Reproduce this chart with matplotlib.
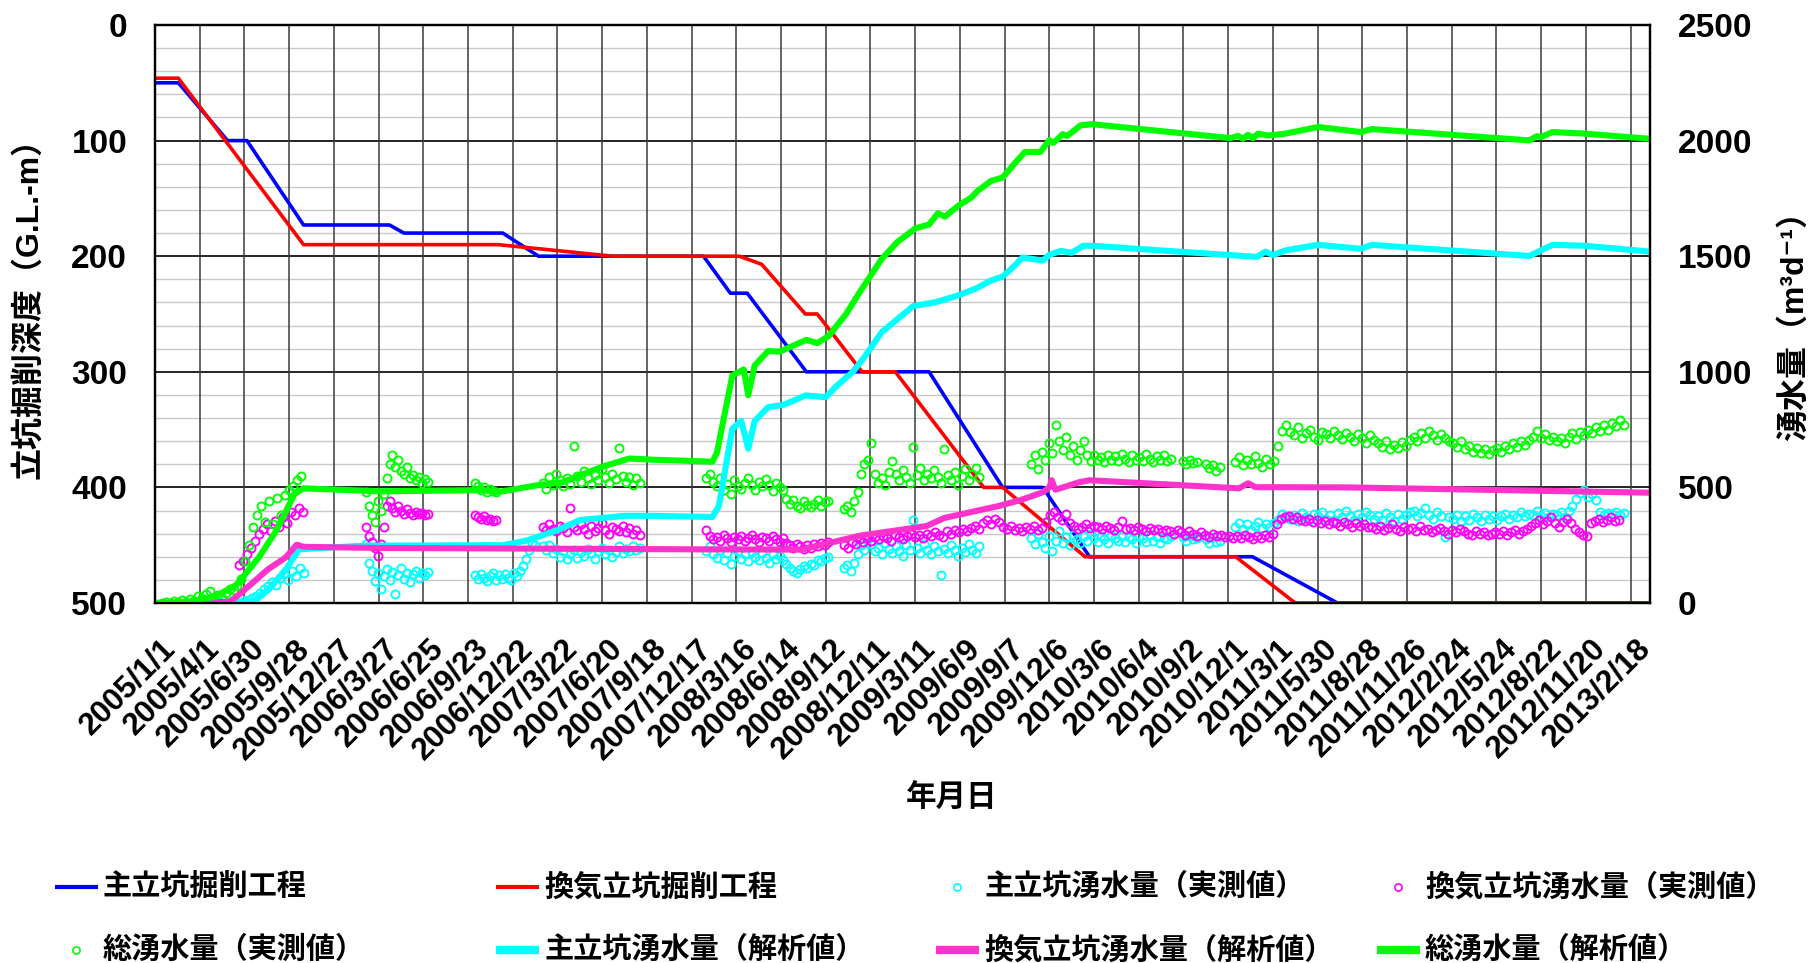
import matplotlib
matplotlib.use("Agg")
import matplotlib.pyplot as plt
import matplotlib.transforms as mtransforms
from matplotlib.lines import Line2D
import numpy as np
import pandas as pd

plt.rcParams["font.family"] = ["Liberation Sans", "Noto Sans CJK JP", "DejaVu Sans"]
plt.rcParams["font.weight"] = "bold"

T0 = np.datetime64("2005-01-01")
X_END = 3009                      # days after 2005/1/1 shown on the axis

# shaft excavation depth (G.L.-m), days after 2005/1/1
main_day = [0, 47, 146, 185, 299, 472, 501, 700, 772, 1104, 1158, 1192, 1311, 1558,
            1706, 1787, 1881, 2209, 2380, 3009]
main_depth = [50, 50, 100, 100, 173, 173, 180, 180, 200, 200, 232, 232, 300, 300,
              400, 400, 460, 460, 500, 500]
vent_day = [0, 47, 299, 691, 921, 1176, 1221, 1309, 1333, 1423, 1490, 1668, 1706,
            1872, 2175, 2295, 3009]
vent_depth = [46, 46, 190, 190, 200, 200, 207, 250, 250, 300, 300, 400, 400,
              460, 460, 500, 500]

# simulated inflow (m3/d)
main_sim_day = [0, 170, 200, 230, 265, 290, 420, 700, 748, 811, 856, 946, 1000, 1122,
                1135, 1162, 1180, 1194, 1207, 1234, 1265, 1310, 1350, 1373, 1405, 1427,
                1463, 1526, 1571, 1616, 1652, 1683, 1706, 1724, 1746, 1787, 1800, 1823,
                1845, 1868, 1886, 2218, 2235, 2250, 2275, 2341, 2427, 2449, 2766, 2813,
                2878, 3009]
main_sim = [0, 0, 8, 60, 150, 232, 248, 250, 270, 316, 359, 377, 377, 372,
            420, 753, 787, 667, 787, 847, 857, 898, 890, 941, 1001, 1061,
            1172, 1284, 1301, 1330, 1360, 1395, 1412, 1446, 1494, 1481, 1506, 1523,
            1515, 1545, 1545, 1497, 1520, 1505, 1525, 1549, 1532, 1549, 1501, 1549,
            1545, 1520]
vent_sim_day = [0, 150, 173, 227, 263, 285, 299, 450, 1100, 1302, 1418, 1499, 1553, 1589,
                1661, 1697, 1742, 1787, 1800, 1805, 1812, 1835, 1859, 1881, 2182, 2200,
                2215, 2400, 2800, 3009]
vent_sim = [0, 5, 43, 145, 197, 252, 243, 238, 232, 231, 291, 316, 333, 368,
            402, 419, 445, 479, 500, 531, 490, 505, 522, 531, 496, 518,
            501, 500, 485, 477]
total_sim_day = [0, 60, 119, 164, 209, 245, 281, 299, 452, 658, 694, 766, 820, 901, 955,
                 1000, 1122, 1131, 1162, 1185, 1194, 1207, 1234, 1257, 1311, 1333, 1356,
                 1391, 1418, 1463, 1495, 1531, 1558, 1576, 1590, 1616, 1643, 1656, 1683,
                 1706, 1733, 1751, 1782, 1800, 1808, 1827, 1836, 1863, 1886, 2164, 2180,
                 2190, 2200, 2210, 2220, 2240, 2275, 2341, 2427, 2449, 2766, 2781, 2790,
                 2813, 2878, 3009]
total_sim = [0, 3, 26, 78, 197, 316, 472, 496, 483, 488, 481, 508, 522, 590, 625,
             620, 611, 650, 984, 1010, 899, 1027, 1090, 1087, 1138, 1124, 1155,
             1250, 1343, 1489, 1563, 1621, 1637, 1686, 1671, 1717, 1754, 1783, 1826,
             1840, 1908, 1951, 1951, 2002, 1990, 2028, 2020, 2066, 2071, 2011, 2020,
             2008, 2025, 2010, 2030, 2022, 2030, 2059, 2037, 2050, 2001, 2019, 2016,
             2037, 2030, 2008]

# measured inflow (m3/d): (first day, spacing in days, readings)
main_obs = [
    (139, 8, [0, 3, 0, 5, 2, 8, 12, 20, 30, 45, 60, 75, 90, 80, 110, 125, 100, 140, 115,
              150, 130]),
    (424, 6, [255, 175, 140, 95, 130, 60, 115, 145, 100, 135, 40, 120, 150, 105, 130, 90,
              125, 140, 110, 130, 120, 135]),
    (645, 6, [120, 105, 125, 110, 95, 115, 130, 100, 120, 105, 125, 110, 100, 130, 115,
              140, 160, 190, 230, 260, 250]),
    (780, 7, [245, 230, 250, 215, 235, 200, 225, 190, 210, 230, 195, 220, 205, 235, 215,
              190, 225, 240, 210, 230, 200, 220, 245, 215, 235, 225, 245, 230, 240]),
    (1110, 7, [225, 245, 210, 195, 230, 185, 215, 170, 205, 225, 190, 210, 180, 220, 200,
               185, 215, 195, 175, 210, 190, 205, 185, 170, 150, 140, 130, 145, 160, 150,
               170, 165, 185, 180, 195, 200]),
    (1386, 7, [150, 165, 140, 175, 210, 250, 230, 275, 255, 225, 240, 210, 260, 235, 215,
               245, 225, 205, 250, 230, 360, 240, 215, 255, 230, 210, 245, 225, 120, 235,
               215, 250, 230, 205, 240, 220, 255, 230, 215, 245]),
    (1764, 7, [280, 255, 300, 265, 240, 290, 225, 270, 310, 260, 285, 250, 295, 275, 260,
               290, 270, 300, 280, 265, 290, 275, 260, 295, 280, 270, 290, 265, 285, 275,
               260, 290, 280, 265, 295, 270, 285, 260, 280, 275, 290]),
    (2069, 7, [285, 270, 290, 275, 280]),
    (2115, 7, [275, 260, 285, 265, 270]),
    (2173, 8, [330, 345, 320, 340, 315, 335, 350, 325, 340, 330, 345,
               360, 385, 375,
               365, 380, 355, 390, 370, 360, 385, 375, 395, 365, 380, 360, 390, 370, 400,
               375, 360, 385, 370, 395, 380, 365,
               375, 360, 390, 370, 355, 385, 365, 380, 395,
               400, 375, 390, 410, 380, 365, 395, 375, 285, 370,
               365, 380, 355, 375, 360, 385, 370, 355, 380, 365, 375,
               360, 375, 385, 365, 380, 370, 395, 375, 385,
               380, 400, 375, 390, 370, 385,
               380, 395, 370, 400, 420, 450, 475, 490, 460, 470, 445, 395, 380, 390, 385,
               395, 380, 390]),
]
vent_obs = [
    (170, 8, [165, 180, 210, 240, 270, 300, 320, 340, 310, 355, 330, 370, 345, 395, 380,
              410, 395]),
    (424, 6, [330, 290, 265, 240, 205, 255, 330, 420, 440, 410, 395, 420, 400, 385, 405,
              390, 380, 395, 385, 390, 380, 385]),
    (645, 6, [380, 370, 365, 375, 360, 365, 355, 360]),
    (780, 7, [330, 315, 340, 320, 310, 335, 325, 305, 410, 330, 315, 340, 320, 300, 335,
              310, 325, 345, 315, 300, 330, 320, 310, 335, 305, 325, 300, 315, 295]),
    (1110, 7, [315, 290, 275, 285, 270, 295, 280, 265, 285, 275, 290, 270, 280, 295, 275,
               265, 285, 280, 270, 290, 275, 265, 280, 260, 250, 240, 255, 245, 235, 250,
               240, 255, 245, 260, 250, 265]),
    (1386, 8, [250, 240, 265, 255, 275, 265, 280, 270,
               285, 275, 290, 280, 270, 295, 285, 275, 290, 300, 285, 295, 280, 300, 290,
               305, 295, 285, 310, 300, 315, 305, 320, 310, 325, 335, 320,
               345, 360, 340, 365, 350,
               330, 320, 335, 315, 325, 310, 330, 320, 335, 315, 325,
               350, 380, 395, 370, 360, 385, 345,
               335, 320, 330, 340, 325, 335,
               330, 320, 335, 325, 315, 330, 355, 320, 325, 315, 330, 320, 310, 325, 315,
               320, 305, 315, 310, 300, 315, 305, 295, 310, 300, 290, 305, 295, 285, 300,
               290, 295, 285, 290, 280]),
    (2178, 8, [290, 280, 295, 285, 275, 290, 280, 295, 285, 300,
               340, 365, 370,
               375, 365, 370, 360, 355, 365, 350, 360, 345, 355, 340, 350, 345, 335, 350,
               340, 330, 345, 335, 340, 330,
               330, 320, 335, 315, 325, 340, 320, 310, 330, 320, 325, 310, 335, 315, 320,
               305, 315, 325, 310, 300, 315, 305, 320, 310, 300, 295, 310, 300, 305, 295,
               300,
               305, 300, 310, 295, 305, 315, 300, 310,
               320, 335, 345, 360, 340, 355, 370, 345, 330, 350,
               365, 345, 320, 305, 295, 290,
               345, 355, 365, 350, 360, 370, 355, 360]),
]
total_obs = [
    (14, 8, [2, 5, 0, 8, 4, 12, 6, 18, 10, 30, 22, 40, 50, 28, 35, 20, 45, 60, 55, 75,
             105, 180, 250, 330, 380, 420, 350, 440, 340, 455, 380, 465, 490, 505, 530,
             550]),
    (424, 6, [480, 420, 380, 350, 440, 400, 470, 540, 600, 640, 590, 620, 570, 560, 590,
              540, 555, 530, 545, 520, 535, 525]),
    (645, 6, [520, 505, 490, 500, 480, 495, 485, 480]),
    (780, 7, [520, 495, 545, 510, 560, 530, 505, 540, 515, 680, 550, 525, 570, 540, 515,
              555, 530, 580, 545, 520, 560, 535, 670, 550, 525, 545, 510, 540, 520]),
    (1110, 7, [540, 560, 525, 505, 540, 490, 515, 470, 530, 505, 495, 520, 540, 510, 490,
               525, 505, 535, 510, 485, 520, 500, 490, 450, 430, 445, 420, 410, 440, 425,
               415, 430, 445, 420, 435, 440]),
    (1386, 7, [405, 420, 395, 440, 480, 560, 600, 620, 690, 560, 520, 540, 510, 565, 615,
               560, 530, 575, 545, 520, 675, 555, 585, 530, 560, 540, 575, 545, 520, 665,
               555, 530, 565, 510, 550, 580, 530, 560, 585, 545]),
    (1764, 7, [600, 640, 580, 655, 620, 690, 650, 770, 700, 660, 720, 640, 680, 620, 660,
               700, 640, 615, 640, 620, 630, 610, 640, 620, 635, 615, 645, 625, 610, 640,
               620, 630, 615, 645, 625, 610, 635, 620, 640, 615, 625]),
    (2069, 7, [615, 600, 620, 605, 610]),
    (2115, 7, [600, 585, 595, 570, 590]),
    (2173, 8, [610, 630, 595, 620, 600, 635, 605, 590, 625, 600, 615,
               680, 745, 770,
               740, 725, 760, 715, 735, 750, 720, 705, 740, 730, 715, 745, 725, 710, 735,
               720, 700, 730, 715, 690, 725, 705,
               690, 675, 700, 665, 685, 670, 695, 680, 705,
               720, 700, 735, 715, 745, 725, 705, 730, 715, 700,
               690, 675, 700, 665, 680, 655, 670, 650, 665, 645, 660,
               670, 655, 680, 665, 690, 675, 700, 685, 705,
               720, 745, 715, 730, 705, 720,
               700, 715, 690, 720, 735, 710, 740, 725, 750, 735, 760, 745, 770, 750, 780,
               765, 790, 770]),
]

LABELS = ["主立坑掘削工程", "換気立坑掘削工程", "主立坑湧水量（実測値）", "換気立坑湧水量（実測値）",
          "総湧水量（実測値）", "主立坑湧水量（解析値）", "換気立坑湧水量（解析値）", "総湧水量（解析値）"]
BLUE, RED, CYAN, MAG, PINK, GREEN = "#0000ff", "#ff0000", "#00ffff", "#ff00ff", "#ff33cc", "#00ff00"


def to_dates(days):
    return T0 + np.asarray(days).astype("timedelta64[D]")


def seg_points(segs):
    days, vals = [], []
    for start, step, v in segs:
        days.extend(start + step * np.arange(len(v)))
        vals.extend(v)
    return to_dates(days), np.array(vals)


W, H = 1812, 963
fig = plt.figure(figsize=(W / 100, H / 100), dpi=100)
L, R, TOP, BOT = 155, 1650, 25, 603
ax = fig.add_axes([L / W, 1 - BOT / H, (R - L) / W, (BOT - TOP) / H])
ax2 = ax.twinx()

# grid: light minor rows every 20 m, dark rows every 100 m, columns at each date tick
ticks = to_dates(np.arange(0, 2971, 90))
for y in range(20, 500, 20):
    ax.axhline(y, color="#000000" if y % 100 == 0 else "#c8c8c8",
               lw=1.2 if y % 100 == 0 else 1.0, zorder=0)
for t in ticks[1:]:
    ax.axvline(t, color="#3a3a3a", lw=1.1, zorder=0)

ax.plot(to_dates(main_day), main_depth, color=BLUE, lw=2.6, zorder=3)
ax.plot(to_dates(vent_day), vent_depth, color=RED, lw=2.6, zorder=3)
ax.set_ylim(500, 0)
ax.set_xlim(to_dates([0, X_END]))

mk = dict(ls="none", marker="o", mfc="none", ms=5.8, mew=1.35)
for segs, c in [(main_obs, CYAN), (vent_obs, MAG), (total_obs, GREEN)]:
    d, v = seg_points(segs)
    ax2.plot(d, v, mec=c, **mk)
ax2.plot(to_dates(main_sim_day), main_sim, color=CYAN, lw=4.4, solid_joinstyle="round")
ax2.plot(to_dates(vent_sim_day), vent_sim, color=PINK, lw=4.4, solid_joinstyle="round")
ax2.plot(to_dates(total_sim_day), total_sim, color=GREEN, lw=4.4, solid_joinstyle="round")
ax2.set_ylim(0, 2500)

ax.set_yticks(range(0, 501, 100))
ax2.set_yticks(range(0, 2501, 500))
ax.set_xticks(ticks)
ax.set_xticklabels([f"{pd.Timestamp(t).year}/{pd.Timestamp(t).month}/{pd.Timestamp(t).day}"
                    for t in ticks])
ax.tick_params(axis="x", length=0, pad=22, labelsize=22.5)
ax.tick_params(axis="y", length=0, pad=20, labelsize=24)
ax2.tick_params(axis="y", length=0, pad=20, labelsize=24)
shift = mtransforms.ScaledTranslation(5 / 100, 0, fig.dpi_scale_trans)
for lab in ax.get_xticklabels():
    lab.set_rotation(45)
    lab.set_ha("right")
    lab.set_va("top")
    lab.set_rotation_mode("anchor")
    lab.set_transform(lab.get_transform() + shift)
for a in (ax, ax2):
    for s in a.spines.values():
        s.set_linewidth(1.6)
        s.set_color("black")

fig.text(29 / W, 1 - 300 / H, "立坑掘削深度（G.L.-m）", rotation=90, ha="center",
         va="center", fontsize=23)
fig.text(1795 / W, 1 - 318 / H, "湧水量（m³d⁻¹）", rotation=90, ha="center",
         va="center", fontsize=23)
fig.text(952 / W, 1 - 798 / H, "年月日", ha="center", va="center", fontsize=22)

# legend, 4 columns x 2 rows
col_x = [55, 496, 936, 1377]
row_y = [887, 950]
styles = [dict(color=BLUE, lw=3), dict(color=RED, lw=3),
          dict(marker="o", mec=CYAN), dict(marker="o", mec=MAG), dict(marker="o", mec=GREEN),
          dict(color=CYAN, lw=6), dict(color=PINK, lw=6), dict(color=GREEN, lw=6)]
for i, (lab, st) in enumerate(zip(LABELS, styles)):
    x0, y0 = col_x[i % 4], row_y[i // 4]
    fy = 1 - y0 / H
    if "marker" in st:
        fig.add_artist(Line2D([(x0 + 21) / W], [fy], transform=fig.transFigure, ls="none",
                              mfc="none", ms=5.2, mew=1.2, **st))
    else:
        fig.add_artist(Line2D([x0 / W, (x0 + 43) / W], [fy, fy], transform=fig.transFigure,
                              solid_capstyle="butt", **st))
    fig.text((x0 + 48) / W, fy, lab, ha="left", va="center", fontsize=21)

fig.savefig("out.png", dpi=100)
